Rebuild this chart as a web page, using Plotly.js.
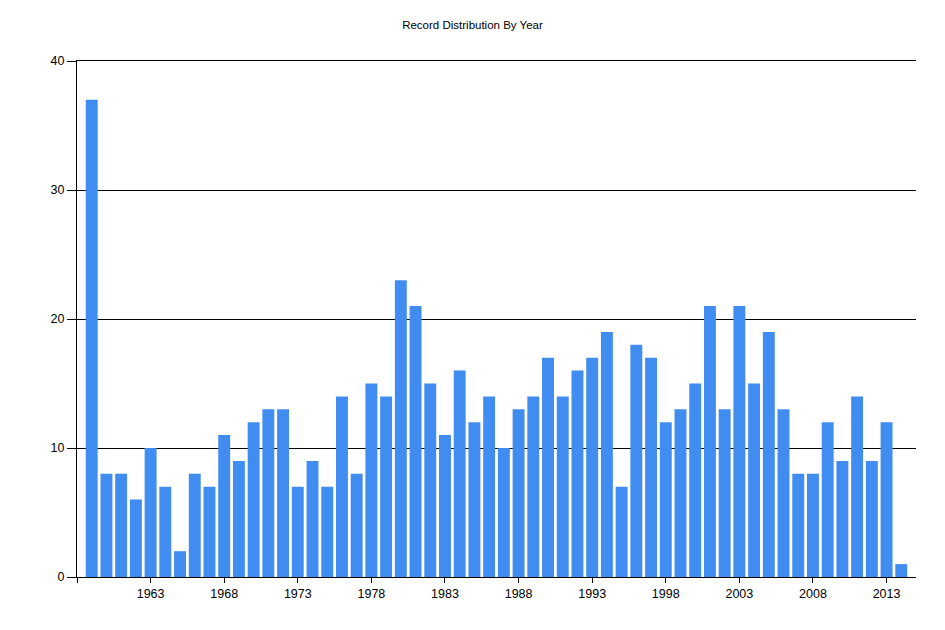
<!DOCTYPE html>
<html>
<head>
<meta charset="utf-8">
<script src="https://cdn.plot.ly/plotly-3.0.1.min.js"></script>
<style>html,body{margin:0;padding:0;background:#fff;}#chart{width:945px;height:630px;}</style>
</head>
<body>
<div id="chart"></div>
<script>
var years = [1959,1960,1961,1962,1963,1964,1965,1966,1967,1968,1969,1970,1971,1972,1973,1974,1975,1976,1977,1978,1979,1980,1981,1982,1983,1984,1985,1986,1987,1988,1989,1990,1991,1992,1993,1994,1995,1996,1997,1998,1999,2000,2001,2002,2003,2004,2005,2006,2007,2008,2009,2010,2011,2012,2013,2014];
var counts = [37,8,8,6,10,7,2,8,7,11,9,12,13,13,7,9,7,14,8,15,14,23,21,15,11,16,12,14,10,13,14,17,14,16,17,19,7,18,17,12,13,15,21,13,21,15,19,13,8,8,12,9,14,9,12,1];
var xTickVals = [1958,1963,1968,1973,1978,1983,1988,1993,1998,2003,2008,2013];
var xTickText = ['','1963','1968','1973','1978','1983','1988','1993','1998','2003','2008','2013'];
var yTickVals = [0,10,20,30,40];

var trace = {
  type: 'bar',
  x: years,
  y: counts,
  width: 0.81,
  marker: {color: '#418CF0', line: {width: 0}},
  hoverinfo: 'x+y'
};
var layout = {
  width: 945, height: 630,
  margin: {l: 77, r: 29, t: 61, b: 53},
  paper_bgcolor: '#fff', plot_bgcolor: '#fff',
  font: {family: 'Liberation Sans, Arial, sans-serif', size: 12, color: '#000'},
  title: {text: 'Record Distribution By Year', font: {size: 11.5, color: '#000'}, x: 0.5, xref: 'container', xanchor: 'center', y: 0.96, yref: 'container', yanchor: 'middle'},
  showlegend: false,
  xaxis: {
    range: [1958, 2015],
    tickmode: 'array', tickvals: xTickVals, ticktext: xTickText,
    showgrid: false, zeroline: false,
    showline: true, mirror: true, linecolor: '#000', linewidth: 1,
    ticks: 'outside', ticklen: 5, tickcolor: '#000', tickwidth: 1,
    tickfont: {size: 12.5, color: '#000'}
  },
  yaxis: {
    range: [0, 40],
    tickmode: 'array', tickvals: yTickVals,
    showgrid: true, gridcolor: '#000', gridwidth: 1,
    zeroline: false,
    showline: true, linecolor: '#000', linewidth: 1,
    ticks: 'outside', ticklen: 9, tickcolor: '#000', tickwidth: 1,
    tickfont: {size: 12.5, color: '#000'}
  }
};
Plotly.newPlot('chart', [trace], layout, {displayModeBar: false, staticPlot: true});
</script>
</body>
</html>
